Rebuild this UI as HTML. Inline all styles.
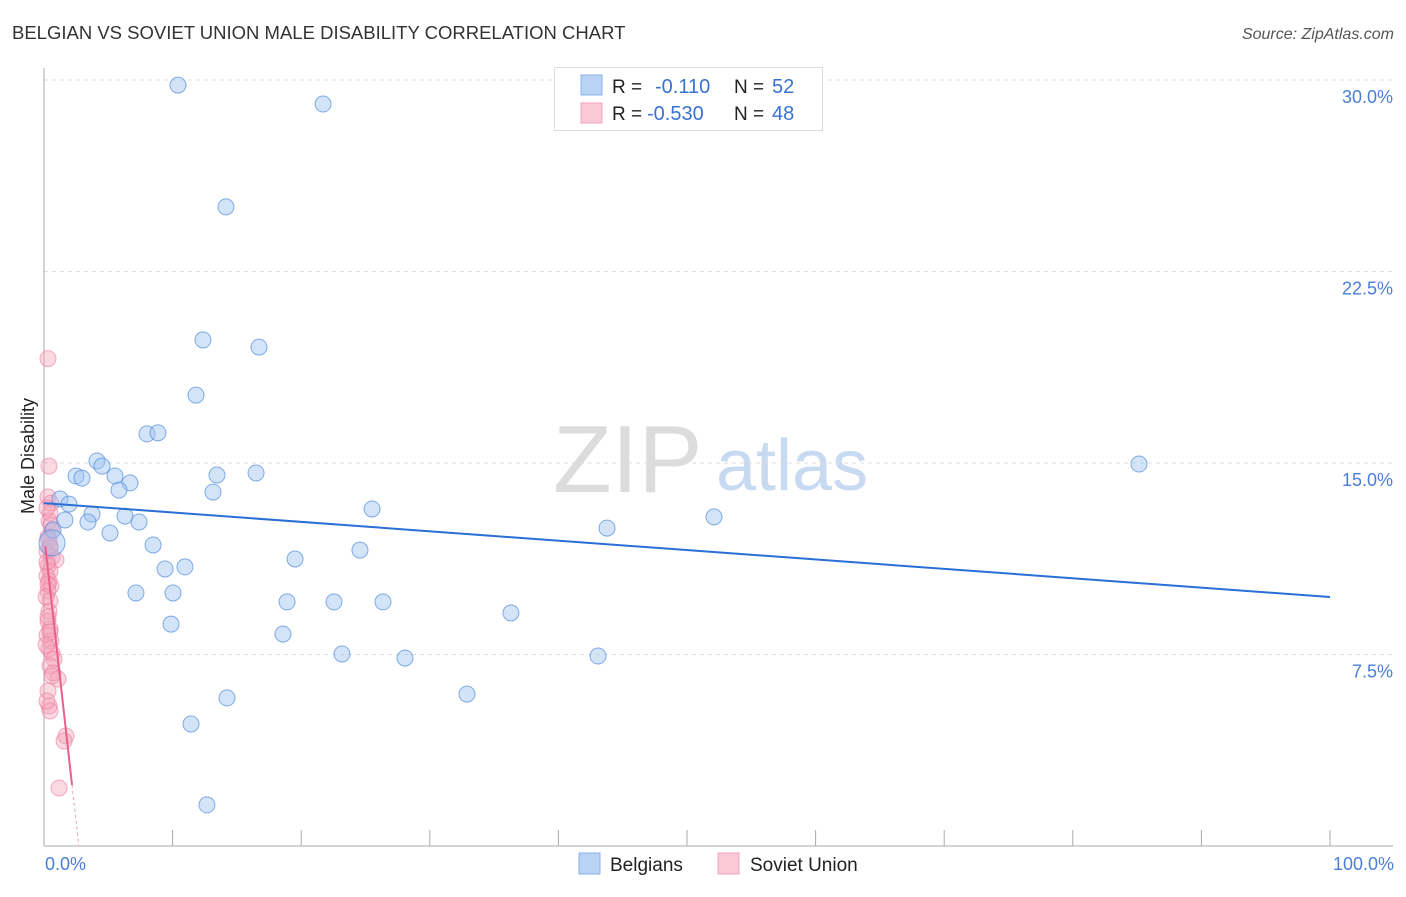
<!DOCTYPE html>
<html><head><meta charset="utf-8"><style>
body{margin:0;background:#fff;font-family:"Liberation Sans",sans-serif;}
svg text{font-family:"Liberation Sans",sans-serif;}
</style></head><body>
<svg id="chart" width="1406" height="892" xmlns="http://www.w3.org/2000/svg">
<text x="12" y="39" font-size="18.5" fill="#333">BELGIAN VS SOVIET UNION MALE DISABILITY CORRELATION CHART</text>
<text x="1394" y="39" font-size="16" fill="#555" font-style="italic" text-anchor="end">Source: ZipAtlas.com</text>
<g>
<text x="553" y="492" font-size="96" fill="#dcdcdc" font-family="Liberation Serif">ZIP</text>
<text x="716" y="490" font-size="72" fill="#c8daf2">atlas</text>
</g>
<g id="grid"></g><g id="axes"></g><g id="marks"></g>
<text transform="translate(34,456) rotate(-90)" font-size="18" fill="#222" text-anchor="middle">Male Disability</text>
<text x="45" y="870" font-size="18" fill="#4a7fd4">0.0%</text>
<text x="1394" y="870" font-size="18" fill="#4a7fd4" text-anchor="end">100.0%</text>
<g>
<rect x="554.5" y="67.5" width="268" height="63" fill="#fff" stroke="#ddd"/>
<rect x="581" y="75" width="21" height="20" fill="#b9d3f5" stroke="#8ab2e8"/>
<rect x="581" y="103" width="21" height="20" fill="#fbc9d7" stroke="#f1a3bb"/>
<text x="612" y="93" font-size="19" fill="#222">R = </text><text x="655" y="93" font-size="20" fill="#3a72d0">-0.110</text>
<text x="734" y="93" font-size="19" fill="#222">N = </text><text x="772" y="93" font-size="20" fill="#3a72d0">52</text>
<text x="612" y="120" font-size="19" fill="#222">R = </text><text x="647" y="120" font-size="20" fill="#3a72d0">-0.530</text>
<text x="734" y="120" font-size="19" fill="#222">N = </text><text x="772" y="120" font-size="20" fill="#3a72d0">48</text>
</g>
<g>
<rect x="579" y="853" width="21" height="21" fill="#b9d3f5" stroke="#8ab2e8"/>
<text x="610" y="871" font-size="19" fill="#222">Belgians</text>
<rect x="718" y="853" width="21" height="21" fill="#fbc9d7" stroke="#f1a3bb"/>
<text x="750" y="871" font-size="19" fill="#222">Soviet Union</text>
</g>
</svg>
<script>
const yTicks=[7.5,15,22.5,30];
const yTickLabels=["7.5%","15.0%","22.5%","30.0%"];
const belgX=[10.42,21.70,14.15,12.36,16.72,11.82,8.01,8.86,4.12,4.51,2.49,2.95,5.52,6.69,5.83,1.24,1.94,13.45,16.49,13.14,3.73,1.63,3.42,6.30,7.39,5.13,0.70,25.51,43.78,52.10,85.15,8.48,24.57,19.52,9.41,10.96,7.15,10.03,18.90,22.55,26.36,36.31,9.88,18.58,23.17,28.07,43.08,32.89,14.23,11.43,12.67,0.62];
const belgY=[29.80,29.06,25.03,19.82,19.54,17.66,16.14,16.18,15.08,14.88,14.49,14.41,14.49,14.22,13.94,13.59,13.39,14.53,14.61,13.86,13.00,12.77,12.69,12.92,12.69,12.26,12.38,13.20,12.45,12.89,14.96,11.79,11.59,11.24,10.85,10.93,9.91,9.91,9.56,9.56,9.56,9.13,8.69,8.30,7.52,7.36,7.44,5.95,5.80,4.78,1.61,11.87];
const sovX=[0.31,0.39,0.31,0.54,0.47,0.39,0.62,0.31,0.47,0.23,0.62,0.93,0.31,0.47,0.23,0.39,0.54,0.31,0.47,0.39,0.31,0.47,0.23,0.54,0.39,0.62,0.78,0.47,0.70,1.09,0.31,0.39,0.47,1.71,1.56,1.17,0.23,0.39,0.23,0.31,0.16,0.31,0.47,0.16,0.62,0.23,0.54,0.47];
const sovY=[19.09,14.88,13.67,13.43,13.04,12.73,12.34,12.10,11.75,11.55,11.32,11.20,10.97,10.77,10.57,10.38,10.18,9.99,9.60,9.20,8.81,8.50,8.26,8.03,7.72,7.56,7.32,7.05,6.78,6.54,6.07,5.48,5.29,4.31,4.11,2.27,13.24,11.99,11.12,10.26,9.75,8.97,8.38,7.87,6.66,5.68,12.57,11.67];
const belgTrend=[13.43,9.75];
const sovTrend=[12.2,-4.5];
const X=v=>44+v*12.86, Y=v=>846-v*25.533;
const NS='http://www.w3.org/2000/svg';
function mk(t,a,p){const e=document.createElementNS(NS,t);for(const k in a)e.setAttribute(k,a[k]);document.getElementById(p).appendChild(e);return e;}
yTicks.forEach((t,i)=>{
 const l=mk('line',{x1:44,x2:1393,y1:Y(t),y2:Y(t),stroke:'#ddd','stroke-dasharray':'4,4'},'grid');
 
 
 const tx=mk('text',{x:1393,y:Y(t)+23,'font-size':18,fill:'#4a7fd4','text-anchor':'end'},'grid');
 tx.textContent=yTickLabels[i];
 
 
});
const ax=mk('line',{x1:44,x2:44,y1:68,y2:846,stroke:'#aaa'},'axes');


const bx=mk('line',{x1:44,x2:1393,y1:846,y2:846,stroke:'#aaa'},'axes');


for(let i=1;i<=10;i++){
 const t=mk('line',{x1:X(i*10),x2:X(i*10),y1:830,y2:846,stroke:'#aaa'},'axes');
 
 
}
sovX.forEach((x,i)=>{
 const c=mk('circle',{cx:X(x),cy:Y(sovY[i]),r:8,fill:'rgba(244,160,186,0.4)',stroke:'rgba(236,120,158,0.6)','stroke-width':1},'marks');
 
 
});
belgX.forEach((x,i)=>{
 const c=mk('circle',{cx:X(x),cy:Y(belgY[i]),r:(i==belgX.length-1?13:8),fill:'rgba(160,196,240,0.45)',stroke:'rgba(80,140,220,0.7)','stroke-width':1},'marks');
 
 
});
const bl=mk('line',{x1:X(0),y1:Y(belgTrend[0]),x2:X(100),y2:Y(belgTrend[1]),stroke:'#2a6fd6','stroke-width':2},'marks');


const sx=2.18,sz=-sovTrend[0]/sovTrend[1];
const sl=mk('line',{x1:X(0.1),y1:Y(sovTrend[0]+sovTrend[1]*0.1),x2:X(sx),y2:Y(sovTrend[0]+sovTrend[1]*sx),stroke:'#e8608a','stroke-width':2},'marks');


const sd=mk('line',{x1:X(sx),y1:Y(sovTrend[0]+sovTrend[1]*sx),x2:X(sz),y2:Y(0),stroke:'#e8a0b8','stroke-width':1,'stroke-dasharray':'3,3'},'marks');


</script>
</body></html>
